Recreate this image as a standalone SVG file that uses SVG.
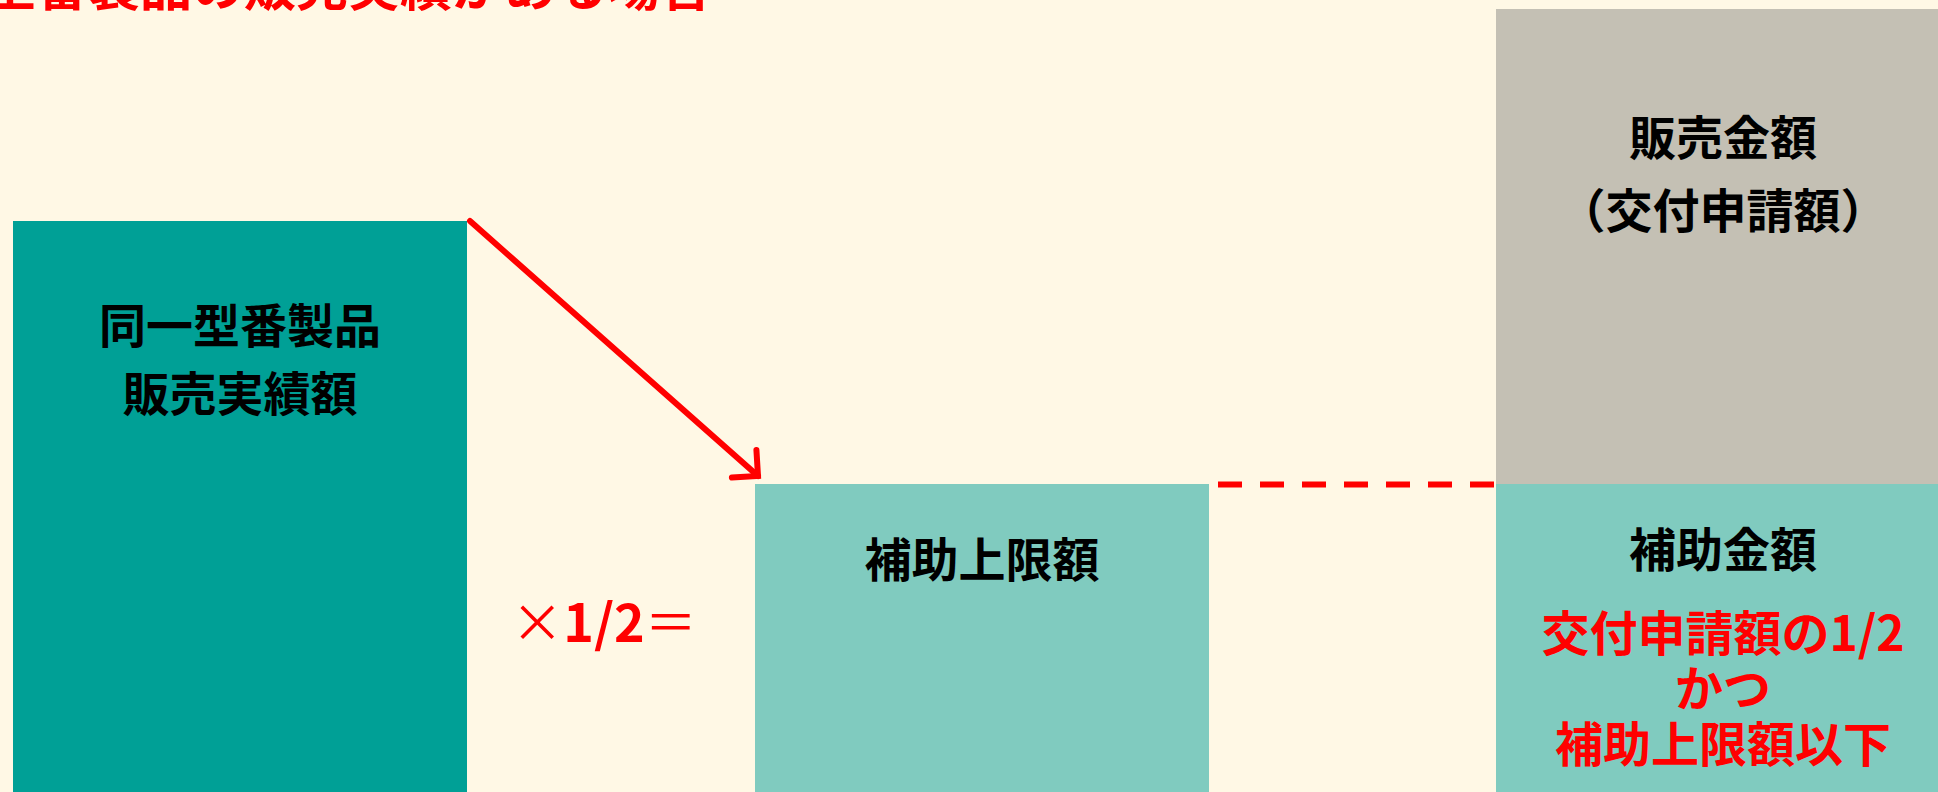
<svg xmlns="http://www.w3.org/2000/svg" width="1938" height="792" viewBox="0 0 1938 792">
<style>
  .t { font-family: "Noto Sans CJK JP", "Noto Sans", sans-serif; font-weight: 700; text-anchor: middle; }
  .blk { fill: #000000; font-size: 47px; }
  .red { fill: #FF0000; font-size: 48px; }
  .thin { font-weight: 400; }
</style>
<defs>
  <marker id="arrowhead" markerUnits="userSpaceOnUse" markerWidth="60" markerHeight="60" viewBox="-30 -30 60 60" refX="0" refY="0" orient="auto" overflow="visible">
    <path d="M -18.5 -18.5 L 0 0 L -18.5 18.5" fill="none" stroke="#FF0000" stroke-width="6" stroke-linecap="round" stroke-linejoin="miter"/>
  </marker>
</defs>
<rect x="0" y="0" width="1938" height="792" fill="#FFF8E5"/>

<g id="title">
  <text class="t red" x="712" y="6" style="text-anchor:end;font-size:52px">同一型番製品の販売実績がある場合</text>
</g>

<g id="node-sales-record">
  <rect x="13" y="221" width="454" height="571" fill="#00A096"/>
  <text class="t blk" x="240" y="343">同一型番製品</text>
  <text class="t blk" x="240" y="411">販売実績額</text>
</g>

<g id="label-half">
  <text class="t red" x="604" y="642" style="font-size:52px"><tspan class="thin">×</tspan>1/2<tspan class="thin">＝</tspan></text>
</g>

<g id="node-upper-limit">
  <rect x="755" y="484" width="454" height="308" fill="#80CBBF"/>
  <text class="t blk" x="982" y="577">補助上限額</text>
</g>

<g id="node-sales-amount">
  <rect x="1496" y="9" width="442" height="475" fill="#C4C0B4"/>
  <text class="t blk" x="1723" y="155">販売金額</text>
  <text class="t blk" x="1723" y="228">（交付申請額）</text>
</g>

<g id="node-subsidy">
  <rect x="1496" y="484" width="442" height="308" fill="#80CBBF"/>
  <text class="t blk" x="1723" y="567">補助金額</text>
  <text class="t red" x="1723" y="651">交付申請額の1/2</text>
  <text class="t red" x="1723" y="706">かつ</text>
  <text class="t red" x="1723" y="762">補助上限額以下</text>
</g>

<g id="connectors">
  <line x1="470" y1="221" x2="758" y2="476" stroke="#FF0000" stroke-width="6" stroke-linecap="round" marker-end="url(#arrowhead)"/>
  <line x1="1218" y1="484.5" x2="1494" y2="484.5" stroke="#FF0000" stroke-width="6" stroke-dasharray="24 18"/>
</g>
</svg>
